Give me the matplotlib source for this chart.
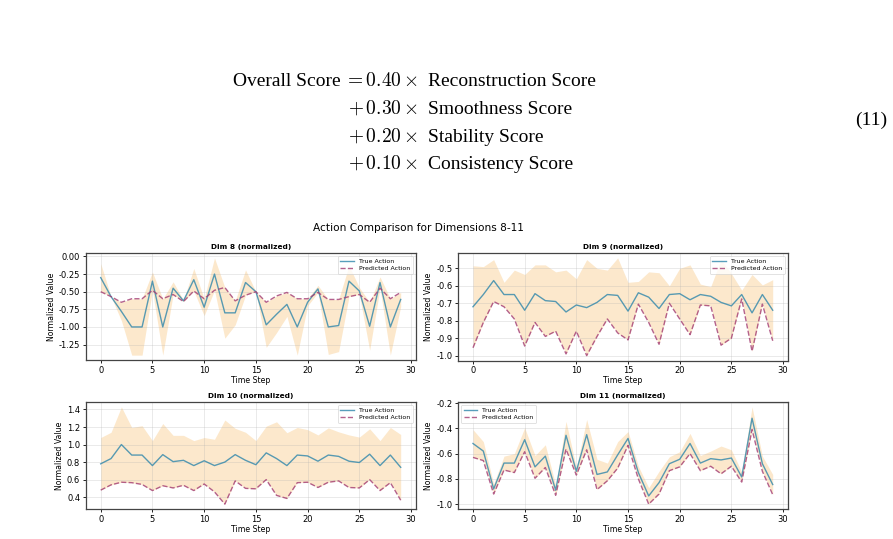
import numpy as np
import matplotlib
matplotlib.use("Agg")
import matplotlib.pyplot as plt
from matplotlib.ticker import FormatStrFormatter

plt.rcParams['mathtext.fontset'] = 'cm'

time_steps = list(range(30))

true_dim8 = [-0.30, -0.57, -0.78, -1.00, -1.00, -0.35, -1.00, -0.45, -0.63, -0.33,
             -0.72, -0.25, -0.80, -0.80, -0.37, -0.50, -0.97, -0.82, -0.68, -1.00,
             -0.65, -0.46, -1.00, -0.98, -0.35, -0.49, -0.99, -0.37, -1.00, -0.61]
pred_dim8 = [-0.50, -0.57, -0.65, -0.60, -0.60, -0.48, -0.60, -0.54, -0.64, -0.49,
             -0.60, -0.48, -0.44, -0.63, -0.55, -0.50, -0.65, -0.56, -0.51, -0.60,
             -0.60, -0.51, -0.61, -0.61, -0.57, -0.54, -0.65, -0.45, -0.60, -0.51]

true_dim9 = [-0.72, -0.65, -0.57, -0.65, -0.65, -0.74, -0.645, -0.685, -0.69, -0.75,
             -0.71, -0.725, -0.695, -0.65, -0.655, -0.745, -0.64, -0.665, -0.73, -0.65,
             -0.645, -0.68, -0.65, -0.66, -0.695, -0.715, -0.65, -0.755, -0.65, -0.74]
pred_dim9 = [-0.955, -0.81, -0.69, -0.72, -0.79, -0.945, -0.81, -0.89, -0.86, -0.99,
             -0.86, -1.00, -0.89, -0.79, -0.87, -0.91, -0.705, -0.81, -0.935, -0.70,
             -0.79, -0.88, -0.71, -0.715, -0.94, -0.90, -0.675, -0.975, -0.705, -0.915]

true_dim10 = [0.78, 0.84, 1.00, 0.88, 0.88, 0.76, 0.885, 0.805, 0.82, 0.76,
              0.815, 0.76, 0.80, 0.885, 0.82, 0.77, 0.905, 0.84, 0.76, 0.88,
              0.87, 0.81, 0.88, 0.865, 0.81, 0.795, 0.89, 0.76, 0.88, 0.74]
pred_dim10 = [0.48, 0.54, 0.57, 0.565, 0.545, 0.475, 0.53, 0.505, 0.535, 0.475,
              0.55, 0.46, 0.32, 0.585, 0.50, 0.495, 0.60, 0.42, 0.385, 0.565,
              0.57, 0.51, 0.57, 0.585, 0.51, 0.505, 0.60, 0.475, 0.565, 0.365]

true_dim11 = [-0.52, -0.58, -0.88, -0.675, -0.675, -0.49, -0.705, -0.62, -0.89, -0.455,
              -0.74, -0.45, -0.765, -0.745, -0.61, -0.48, -0.75, -0.935, -0.83, -0.68,
              -0.645, -0.52, -0.675, -0.64, -0.65, -0.635, -0.785, -0.32, -0.68, -0.845]
pred_dim11 = [-0.63, -0.655, -0.92, -0.73, -0.75, -0.585, -0.795, -0.71, -0.93, -0.565,
              -0.77, -0.57, -0.885, -0.815, -0.715, -0.535, -0.80, -1.00, -0.92, -0.735,
              -0.705, -0.60, -0.735, -0.70, -0.76, -0.70, -0.825, -0.41, -0.74, -0.925]

dims = [8, 9, 10, 11]
true_series = [true_dim8, true_dim9, true_dim10, true_dim11]
pred_series = [pred_dim8, pred_dim9, pred_dim10, pred_dim11]

x_ticks = [0, 5, 10, 15, 20, 25, 30]
y_ticks_dim8 = [0.00, -0.25, -0.50, -0.75, -1.00, -1.25]
y_ticks_dim9 = [-0.5, -0.6, -0.7, -0.8, -0.9, -1.0]
y_ticks_dim10 = [0.4, 0.6, 0.8, 1.0, 1.2, 1.4]
y_ticks_dim11 = [-0.2, -0.4, -0.6, -0.8, -1.0]
y_tick_sets = [y_ticks_dim8, y_ticks_dim9, y_ticks_dim10, y_ticks_dim11]
y_formats = ['%.2f', '%.1f', '%.1f', '%.1f']
legend_locs = ['upper right', 'upper right', 'upper right', 'upper left']

W, H = 893, 539
fig = plt.figure(figsize=(W / 100, H / 100), dpi=100)

# ---- equation text (page content) ----
serif = 'Liberation Serif'
eq_fs = 14
def px(x, y):
    return x / W, 1 - y / H

eq_left_words = 'Overall Score'
eq_ops = [r'$=0.40\times$', r'$+\,0.30\times$', r'$+\,0.20\times$', r'$+\,0.10\times$']
eq_terms = ['Reconstruction Score', 'Smoothness Score', 'Stability Score', 'Consistency Score']
eq_baselines = [86, 114, 142, 169]
eq_op_x = [344, 348, 348, 348]

fig.text(*px(341, 86), eq_left_words, ha='right', va='baseline', fontsize=eq_fs, family=serif)
for op, term, yb, xo in zip(eq_ops, eq_terms, eq_baselines, eq_op_x):
    fig.text(*px(xo, yb), op, ha='left', va='baseline', fontsize=eq_fs, family=serif)
    fig.text(*px(428, yb), term, ha='left', va='baseline', fontsize=eq_fs, family=serif)
fig.text(*px(887, 125), '(11)', ha='right', va='baseline', fontsize=eq_fs, family=serif)

# ---- chart ----
fig.text(*px(418, 228), 'Action Comparison for Dimensions 8-11', ha='center', va='center', fontsize=7.6)

ax_boxes = [
    (85.7, 253, 415.7, 360),
    (458, 253, 787.7, 360.5),
    (85.7, 402, 415.7, 509),
    (458, 402, 787.7, 509),
]

true_color = '#2E86AB'
pred_color = '#A23B72'
band_color = '#F18F01'

for dim, tr, pr, box, loc, yt, yf in zip(dims, true_series, pred_series, ax_boxes,
                                          legend_locs, y_tick_sets, y_formats):
    l, t, r, b = box
    ax = fig.add_axes([l / W, 1 - b / H, (r - l) / W, (b - t) / H])
    tr_a = np.array(tr)
    pr_a = np.array(pr)
    err = np.abs(tr_a - pr_a)
    ax.fill_between(time_steps, tr_a - err, tr_a + err, color=band_color, alpha=0.2, linewidth=0)
    ax.plot(time_steps, tr_a, color=true_color, linewidth=1.0, alpha=0.8, label='True Action')
    ax.plot(time_steps, pr_a, color=pred_color, linewidth=1.0, alpha=0.8, linestyle='--', label='Predicted Action')
    ax.set_title(f'Dim {dim} (normalized)', fontsize=5.3, fontweight='bold', pad=3)
    ax.set_xlabel('Time Step', fontsize=5.6, labelpad=1)
    ax.set_ylabel('Normalized Value', fontsize=5.6, labelpad=2)
    ax.set_xticks(x_ticks)
    ax.set_yticks(yt)
    ax.yaxis.set_major_formatter(FormatStrFormatter(yf))
    ax.tick_params(labelsize=6.0, length=2.5, width=0.6, pad=1.5)
    ax.grid(True, alpha=0.3, linewidth=0.6)
    for s in ax.spines.values():
        s.set_linewidth(0.9)
        s.set_color('#444444')
    leg = ax.legend(loc=loc, fontsize=4.5, handlelength=2.2, borderpad=0.4, labelspacing=0.3)
    leg.get_frame().set_linewidth(0.5)

fig.savefig('out.png', dpi=100)
